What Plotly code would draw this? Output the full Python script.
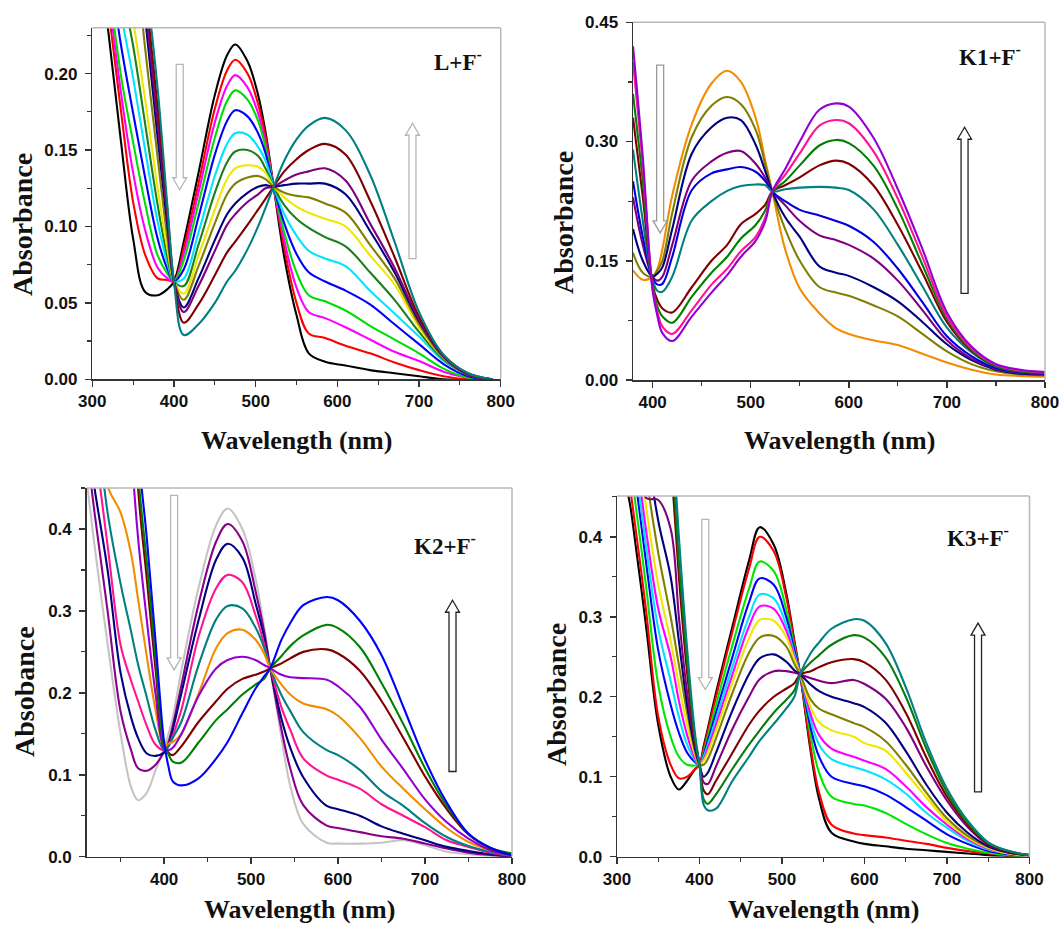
import plotly.graph_objects as go

FIG_W, FIG_H = 1061, 928

# ---------------- Panel 1 : L + F- ----------------
WL_L = [318, 335, 350, 365, 380, 392, 400, 412, 430, 450, 465, 475, 490, 503, 512,
        522, 535, 550, 565, 585, 610, 640, 670, 700, 730, 760, 790]
L_black = [0.235, 0.156, 0.092, 0.057, 0.055, 0.059, 0.064, 0.09, 0.135, 0.186, 0.212, 0.219, 0.208, 0.186, 0.162,
           0.126, 0.08, 0.042, 0.017, 0.0115, 0.009, 0.006, 0.004, 0.002, 0.0, 0.0, 0.0]
L_red = [0.25, 0.176, 0.116, 0.081, 0.066, 0.065, 0.064, 0.086, 0.128, 0.177, 0.202, 0.209, 0.2, 0.18, 0.159,
         0.126, 0.086, 0.05, 0.03, 0.027, 0.022, 0.017, 0.011, 0.006, 0.002, 0.0, 0.0]
L_magenta = [0.26, 0.188, 0.135, 0.097, 0.073, 0.066, 0.064, 0.082, 0.122, 0.168, 0.192, 0.199, 0.191, 0.174, 0.155,
             0.126, 0.091, 0.06, 0.044, 0.04, 0.034, 0.026, 0.018, 0.012, 0.005, 0.001, 0.0]
L_green = [0.27, 0.199, 0.155, 0.114, 0.081, 0.069, 0.064, 0.078, 0.115, 0.158, 0.182, 0.189, 0.183, 0.169, 0.152,
           0.126, 0.096, 0.07, 0.055, 0.051, 0.045, 0.035, 0.026, 0.017, 0.007, 0.001, 0.0]
L_blue = [0.28, 0.219, 0.174, 0.131, 0.092, 0.072, 0.064, 0.072, 0.106, 0.147, 0.169, 0.176, 0.172, 0.161, 0.148,
          0.126, 0.102, 0.082, 0.07, 0.064, 0.058, 0.049, 0.036, 0.023, 0.01, 0.002, 0.0]
L_cyan = [0.3, 0.24, 0.197, 0.149, 0.103, 0.076, 0.064, 0.066, 0.096, 0.133, 0.154, 0.161, 0.16, 0.152, 0.143,
          0.126, 0.108, 0.094, 0.084, 0.079, 0.074, 0.058, 0.043, 0.028, 0.012, 0.003, 0.0]
L_darkgreen = [0.32, 0.26, 0.218, 0.166, 0.114, 0.08, 0.064, 0.061, 0.088, 0.122, 0.142, 0.149, 0.15, 0.146, 0.138,
               0.126, 0.114, 0.105, 0.099, 0.093, 0.087, 0.07, 0.052, 0.031, 0.013, 0.003, 0.0]
L_yellow = [0.35, 0.29, 0.235, 0.182, 0.125, 0.085, 0.064, 0.056, 0.081, 0.111, 0.131, 0.138, 0.14, 0.139, 0.135,
            0.126, 0.119, 0.113, 0.109, 0.105, 0.1, 0.081, 0.062, 0.034, 0.014, 0.003, 0.0]
L_olive = [0.4, 0.34, 0.29, 0.215, 0.145, 0.092, 0.064, 0.052, 0.074, 0.102, 0.121, 0.128, 0.132, 0.133, 0.131,
           0.126, 0.122, 0.12, 0.119, 0.115, 0.109, 0.088, 0.066, 0.036, 0.014, 0.003, 0.0]
L_navy = [0.42, 0.36, 0.31, 0.235, 0.158, 0.1, 0.064, 0.047, 0.066, 0.091, 0.108, 0.115, 0.122, 0.126, 0.127,
          0.126, 0.127, 0.128, 0.128, 0.128, 0.121, 0.097, 0.07, 0.038, 0.015, 0.003, 0.0]
L_purple = [0.43, 0.37, 0.32, 0.245, 0.168, 0.105, 0.064, 0.044, 0.061, 0.084, 0.101, 0.108, 0.116, 0.121, 0.125,
            0.126, 0.13, 0.134, 0.136, 0.138, 0.13, 0.102, 0.073, 0.039, 0.015, 0.003, 0.0]
L_darkred = [0.44, 0.38, 0.33, 0.255, 0.178, 0.11, 0.064, 0.037, 0.049, 0.068, 0.083, 0.09, 0.101, 0.111, 0.118,
             0.126, 0.136, 0.144, 0.15, 0.154, 0.147, 0.117, 0.08, 0.041, 0.016, 0.004, 0.0]
L_teal = [0.45, 0.39, 0.34, 0.265, 0.19, 0.113, 0.064, 0.029, 0.036, 0.05, 0.064, 0.071, 0.085, 0.1, 0.112,
          0.126, 0.143, 0.157, 0.166, 0.171, 0.163, 0.134, 0.09, 0.044, 0.016, 0.004, 0.0]
L_COLORS = ['#000000', '#ff0000', '#ff00ff', '#00dd00', '#0000ff', '#00e5ff', '#1b7f1b',
            '#f2e600', '#808000', '#000080', '#800080', '#800000', '#008080']

# ---------------- Panel 2 : K1 + F- ----------------
WL_K1 = [380, 390, 400, 405, 410, 420, 440, 460, 476, 490, 505, 515, 522, 535, 550, 570,
         587, 600, 625, 650, 675, 700, 725, 750, 775, 800]
K1_orange = [0.138, 0.126, 0.13, 0.14, 0.165, 0.232, 0.322, 0.373, 0.389, 0.375, 0.33, 0.275, 0.237, 0.165, 0.115, 0.084,
             0.065, 0.058, 0.05, 0.044, 0.033, 0.022, 0.013, 0.007, 0.005, 0.004]
K1_olive = [0.16, 0.135, 0.13, 0.138, 0.15, 0.21, 0.306, 0.345, 0.356, 0.347, 0.315, 0.27, 0.237, 0.19, 0.15, 0.117,
            0.11, 0.106, 0.094, 0.08, 0.058, 0.036, 0.02, 0.011, 0.007, 0.006]
K1_navy = [0.19, 0.15, 0.13, 0.134, 0.142, 0.19, 0.285, 0.318, 0.33, 0.327, 0.296, 0.262, 0.237, 0.205, 0.18, 0.143,
           0.135, 0.131, 0.117, 0.099, 0.073, 0.045, 0.025, 0.013, 0.008, 0.007]
K1_purple = [0.23, 0.17, 0.13, 0.125, 0.13, 0.17, 0.251, 0.275, 0.286, 0.288, 0.272, 0.254, 0.237, 0.22, 0.2, 0.182,
             0.176, 0.17, 0.153, 0.125, 0.088, 0.05, 0.027, 0.014, 0.009, 0.008]
K1_blue = [0.25, 0.18, 0.128, 0.12, 0.121, 0.155, 0.239, 0.26, 0.265, 0.268, 0.262, 0.25, 0.237, 0.225, 0.214, 0.207,
           0.2, 0.194, 0.174, 0.14, 0.098, 0.055, 0.03, 0.015, 0.01, 0.008]
K1_teal = [0.29, 0.2, 0.125, 0.112, 0.111, 0.13, 0.201, 0.225, 0.238, 0.244, 0.246, 0.245, 0.237, 0.24, 0.242, 0.243,
           0.242, 0.239, 0.215, 0.17, 0.118, 0.066, 0.035, 0.017, 0.011, 0.009]
K1_darkred = [0.33, 0.23, 0.12, 0.1, 0.09, 0.085, 0.117, 0.15, 0.17, 0.196, 0.209, 0.221, 0.237, 0.245, 0.255, 0.27,
              0.276, 0.272, 0.245, 0.195, 0.135, 0.073, 0.037, 0.018, 0.011, 0.009]
K1_green = [0.36, 0.25, 0.118, 0.092, 0.08, 0.072, 0.105, 0.135, 0.155, 0.178, 0.195, 0.214, 0.237, 0.25, 0.27, 0.295,
            0.302, 0.298, 0.27, 0.215, 0.145, 0.077, 0.038, 0.018, 0.011, 0.009]
K1_pink = [0.4, 0.27, 0.115, 0.085, 0.067, 0.058, 0.088, 0.12, 0.14, 0.162, 0.18, 0.205, 0.237, 0.258, 0.285, 0.32,
           0.327, 0.323, 0.288, 0.228, 0.155, 0.08, 0.04, 0.019, 0.012, 0.01]
K1_violet = [0.42, 0.28, 0.112, 0.08, 0.059, 0.049, 0.08, 0.11, 0.132, 0.155, 0.175, 0.2, 0.237, 0.265, 0.3, 0.34,
             0.348, 0.344, 0.305, 0.24, 0.165, 0.085, 0.042, 0.02, 0.013, 0.01]
K1_COLORS = ['#f28c00', '#808000', '#000080', '#800080', '#0000dd', '#008080', '#800000',
             '#008000', '#ff1493', '#9400d3']

# ---------------- Panel 3 : K2 + F- ----------------
WL_K2 = [311, 320, 335, 350, 362, 370, 380, 390, 400, 405, 410, 420, 440, 460, 473, 490, 505, 515, 522,
         535, 545, 560, 587, 600, 625, 650, 675, 700, 725, 750, 775, 800]
K2_gray = [0.46, 0.38, 0.26, 0.15, 0.085, 0.069, 0.078, 0.105, 0.132, 0.15, 0.17, 0.228, 0.33, 0.405, 0.425, 0.4,
           0.34, 0.28, 0.23, 0.145, 0.087, 0.04, 0.017, 0.016, 0.016, 0.017, 0.02, 0.014, 0.006, 0.003, 0.001, 0.0]
K2_purple = [0.5, 0.42, 0.3, 0.177, 0.13, 0.108, 0.105, 0.112, 0.128, 0.14, 0.16, 0.21, 0.31, 0.385, 0.406, 0.385,
             0.325, 0.275, 0.23, 0.155, 0.108, 0.063, 0.038, 0.035, 0.03, 0.025, 0.022, 0.016, 0.01, 0.005, 0.002, 0.0]
K2_navy = [0.52, 0.45, 0.35, 0.224, 0.17, 0.145, 0.126, 0.123, 0.127, 0.135, 0.155, 0.2, 0.29, 0.363, 0.382, 0.365,
           0.31, 0.268, 0.23, 0.168, 0.133, 0.097, 0.062, 0.058, 0.05, 0.037, 0.028, 0.02, 0.012, 0.007, 0.003, 0.0]
K2_pink = [0.55, 0.5, 0.38, 0.258, 0.215, 0.19, 0.16, 0.137, 0.13, 0.135, 0.148, 0.18, 0.27, 0.328, 0.344, 0.335,
           0.295, 0.26, 0.23, 0.182, 0.155, 0.12, 0.099, 0.094, 0.083, 0.064, 0.05, 0.036, 0.02, 0.012, 0.005, 0.001]
K2_teal = [0.6, 0.55, 0.42, 0.333, 0.275, 0.235, 0.195, 0.155, 0.13, 0.135, 0.145, 0.165, 0.235, 0.29, 0.306, 0.303,
           0.28, 0.255, 0.23, 0.197, 0.178, 0.152, 0.13, 0.124, 0.106, 0.08, 0.062, 0.041, 0.024, 0.013, 0.006, 0.001]
K2_orange = [0.6, 0.55, 0.452, 0.42, 0.37, 0.315, 0.245, 0.18, 0.135, 0.138, 0.14, 0.15, 0.2, 0.255, 0.273, 0.277,
             0.265, 0.248, 0.23, 0.21, 0.198, 0.187, 0.18, 0.172, 0.145, 0.11, 0.083, 0.058, 0.035, 0.018, 0.008, 0.002]
K2_violet = [0.7, 0.7, 0.7, 0.7, 0.5, 0.39, 0.29, 0.2, 0.132, 0.13, 0.133, 0.15, 0.197, 0.23, 0.24, 0.244,
             0.24, 0.234, 0.23, 0.222, 0.219, 0.218, 0.216, 0.208, 0.183, 0.143, 0.107, 0.07, 0.042, 0.022, 0.008, 0.002]
K2_darkred = [0.7, 0.7, 0.7, 0.7, 0.62, 0.45, 0.34, 0.23, 0.135, 0.127, 0.124, 0.135, 0.165, 0.19, 0.205, 0.217,
              0.222, 0.226, 0.23, 0.236, 0.242, 0.25, 0.253, 0.248, 0.227, 0.19, 0.145, 0.098, 0.058, 0.027, 0.01, 0.002]
K2_green = [0.7, 0.7, 0.7, 0.7, 0.65, 0.47, 0.36, 0.245, 0.135, 0.125, 0.116, 0.115, 0.14, 0.167, 0.18, 0.198,
            0.21, 0.217, 0.23, 0.245, 0.257, 0.27, 0.283, 0.279, 0.256, 0.212, 0.162, 0.108, 0.062, 0.028, 0.011, 0.004]
K2_blue = [0.7, 0.7, 0.7, 0.7, 0.7, 0.5, 0.39, 0.265, 0.14, 0.11, 0.092, 0.087, 0.096, 0.12, 0.14, 0.175,
           0.205, 0.22, 0.23, 0.265, 0.285, 0.307, 0.317, 0.313, 0.288, 0.246, 0.183, 0.118, 0.066, 0.028, 0.011, 0.002]
K2_COLORS = ['#c4c4c4', '#8b008b', '#000080', '#ff1493', '#008080', '#f28c00', '#9400d3',
             '#800000', '#008000', '#0000ff']

# ---------------- Panel 4 : K3 + F- ----------------
WL_K3 = [300, 314, 320, 335, 350, 365, 375, 385, 395, 400, 405, 410, 420, 440, 460, 473, 490, 505, 515, 522,
         535, 545, 560, 587, 600, 625, 650, 675, 700, 725, 750, 775, 800]
K3_black = [0.5, 0.45, 0.41, 0.29, 0.165, 0.1, 0.084, 0.095, 0.11, 0.115, 0.138, 0.16, 0.205, 0.288, 0.37, 0.412,
            0.39, 0.33, 0.27, 0.228, 0.13, 0.072, 0.03, 0.019, 0.016, 0.013, 0.01, 0.008, 0.006, 0.004, 0.002, 0.001, 0.0]
K3_red = [0.52, 0.47, 0.43, 0.31, 0.175, 0.115, 0.098, 0.1, 0.11, 0.115, 0.135, 0.157, 0.2, 0.282, 0.36, 0.4,
          0.382, 0.325, 0.268, 0.228, 0.135, 0.08, 0.04, 0.029, 0.027, 0.024, 0.02, 0.016, 0.011, 0.007, 0.004, 0.002, 0.0]
K3_lime = [0.55, 0.5, 0.46, 0.34, 0.215, 0.15, 0.125, 0.115, 0.114, 0.115, 0.13, 0.15, 0.19, 0.265, 0.335, 0.369,
           0.357, 0.31, 0.262, 0.228, 0.15, 0.105, 0.075, 0.066, 0.064, 0.055, 0.041, 0.028, 0.017, 0.01, 0.005, 0.002, 0.0]
K3_blue = [0.58, 0.53, 0.49, 0.37, 0.258, 0.19, 0.155, 0.13, 0.118, 0.115, 0.127, 0.145, 0.18, 0.25, 0.318, 0.348,
           0.34, 0.3, 0.258, 0.228, 0.16, 0.125, 0.1, 0.091, 0.088, 0.078, 0.062, 0.045, 0.028, 0.016, 0.007, 0.003, 0.001]
K3_cyan = [0.6, 0.55, 0.51, 0.39, 0.285, 0.22, 0.175, 0.14, 0.12, 0.115, 0.125, 0.14, 0.172, 0.238, 0.3, 0.328,
           0.323, 0.29, 0.253, 0.228, 0.17, 0.14, 0.122, 0.112, 0.108, 0.097, 0.079, 0.055, 0.036, 0.02, 0.009, 0.004, 0.001]
K3_magenta = [0.62, 0.57, 0.53, 0.41, 0.31, 0.25, 0.195, 0.152, 0.122, 0.115, 0.122, 0.135, 0.165, 0.228, 0.288, 0.313,
              0.31, 0.283, 0.25, 0.228, 0.177, 0.152, 0.135, 0.125, 0.12, 0.11, 0.088, 0.062, 0.04, 0.022, 0.01, 0.004, 0.001]
K3_yellow = [0.65, 0.6, 0.56, 0.44, 0.34, 0.27, 0.215, 0.165, 0.126, 0.115, 0.12, 0.13, 0.158, 0.218, 0.273, 0.296,
             0.295, 0.275, 0.247, 0.228, 0.186, 0.168, 0.158, 0.15, 0.142, 0.133, 0.105, 0.074, 0.044, 0.024, 0.011, 0.004, 0.001]
K3_olive = [0.7, 0.65, 0.6, 0.48, 0.38, 0.3, 0.24, 0.18, 0.13, 0.115, 0.115, 0.122, 0.148, 0.205, 0.255, 0.274,
            0.276, 0.263, 0.241, 0.228, 0.196, 0.185, 0.178, 0.167, 0.162, 0.145, 0.115, 0.08, 0.048, 0.026, 0.012, 0.005, 0.002]
K3_navy = [0.7, 0.68, 0.65, 0.52, 0.42, 0.35, 0.27, 0.19, 0.133, 0.115, 0.1, 0.105, 0.13, 0.183, 0.228, 0.248,
           0.253, 0.244, 0.233, 0.228, 0.215, 0.207, 0.2, 0.192, 0.187, 0.168, 0.132, 0.09, 0.055, 0.03, 0.013, 0.005, 0.002]
K3_purple = [0.7, 0.7, 0.65, 0.449, 0.446, 0.41, 0.3, 0.205, 0.138, 0.115, 0.093, 0.091, 0.113, 0.16, 0.2, 0.222,
             0.232, 0.232, 0.23, 0.228, 0.223, 0.22, 0.217, 0.221, 0.216, 0.198, 0.162, 0.113, 0.07, 0.037, 0.015, 0.006, 0.002]
K3_darkred = [0.7, 0.7, 0.7, 0.7, 0.7, 0.5, 0.35, 0.23, 0.14, 0.115, 0.083, 0.078, 0.095, 0.13, 0.165, 0.183,
              0.2, 0.21, 0.217, 0.228, 0.232, 0.237, 0.243, 0.247, 0.243, 0.222, 0.18, 0.124, 0.075, 0.04, 0.016, 0.006, 0.002]
K3_darkgreen = [0.7, 0.7, 0.7, 0.7, 0.7, 0.53, 0.37, 0.245, 0.145, 0.115, 0.072, 0.066, 0.078, 0.11, 0.14, 0.158,
                0.18, 0.196, 0.208, 0.228, 0.243, 0.252, 0.265, 0.277, 0.274, 0.25, 0.2, 0.135, 0.08, 0.042, 0.017, 0.007, 0.002]
K3_teal = [0.7, 0.7, 0.7, 0.7, 0.7, 0.56, 0.4, 0.26, 0.15, 0.115, 0.065, 0.058, 0.06, 0.095, 0.125, 0.145,
           0.166, 0.185, 0.2, 0.228, 0.255, 0.268, 0.285, 0.297, 0.295, 0.268, 0.212, 0.142, 0.085, 0.045, 0.018, 0.007, 0.002]
K3_COLORS = ['#000000', '#ff0000', '#00e600', '#0000ff', '#00e5ff', '#ff00ff', '#f2e600',
             '#808000', '#000080', '#800080', '#800000', '#0b7a0b', '#008080']

# ---------------- texts ----------------
PANEL_LABELS = ['L+F<sup>-</sup>', 'K1+F<sup>-</sup>', 'K2+F<sup>-</sup>', 'K3+F<sup>-</sup>']
Y_TITLES = ['Absorbance', 'Absorbance', 'Absobance', 'Absorbance']
X_TITLE = 'Wavelength (nm)'

panels = [
    dict(wl=WL_L, curves=[L_black, L_red, L_magenta, L_green, L_blue, L_cyan, L_darkgreen, L_yellow,
                          L_olive, L_navy, L_purple, L_darkred, L_teal], colors=L_COLORS,
         xr=[300, 800], yr=[0, 0.23], ydt=0.05, yminor=0.025, yfmt='.2f',
         box=(92.3, 27.7, 500.7, 379.3),
         ytitle=(22, 225), xtitle_y=440, label=(458, 61),
         arrows=[(407, 0.206, 0.124, '#b5b5b5'), (692, 0.079, 0.1675, '#b5b5b5')]),
    dict(wl=WL_K1, curves=[K1_orange, K1_olive, K1_navy, K1_purple, K1_blue, K1_teal, K1_darkred,
                           K1_green, K1_pink, K1_violet], colors=K1_COLORS,
         xr=[380, 800], yr=[0, 0.45], ydt=0.15, yminor=0.075, yfmt='.2f',
         box=(633, 22.3, 1045, 380),
         ytitle=(563, 223), xtitle_y=440, label=(990, 56),
         arrows=[(407.7, 0.396, 0.185, '#9a9a9a'), (718, 0.109, 0.318, '#222222')]),
    dict(wl=WL_K2, curves=[K2_gray, K2_purple, K2_navy, K2_pink, K2_teal, K2_orange, K2_violet,
                           K2_darkred, K2_green, K2_blue], colors=K2_COLORS,
         xr=[311, 800], yr=[0, 0.45], ydt=0.1, yminor=0.05, yfmt='.1f',
         box=(86.7, 488, 512, 856.7),
         ytitle=(24, 692), xtitle_y=909, label=(445, 544),
         arrows=[(411.5, 0.441, 0.228, '#b5b5b5'), (731.6, 0.104, 0.313, '#222222')]),
    dict(wl=WL_K3, curves=[K3_black, K3_red, K3_lime, K3_blue, K3_cyan, K3_magenta, K3_yellow, K3_olive,
                           K3_navy, K3_purple, K3_darkred, K3_darkgreen, K3_teal], colors=K3_COLORS,
         xr=[300, 800], yr=[0, 0.451], ydt=0.1, yminor=0.05, yfmt='.1f',
         box=(617, 496, 1029.5, 856.7),
         ytitle=(556, 695), xtitle_y=909, label=(978, 536),
         arrows=[(407, 0.4217, 0.209, '#b5b5b5'), (737.6, 0.081, 0.292, '#222222')]),
]


def arrow_path(p, xc, y_tail, y_tip, shaft=7.0, head_w=14.0, head_h=12.0):
    x0, x1 = p['xr']
    y0, y1 = p['yr']
    L, T, R, B = p['box']
    kx = (x1 - x0) / (R - L)
    ky = (y1 - y0) / (B - T)
    s = shaft / 2 * kx
    h = head_w / 2 * kx
    hh = head_h * ky
    sign = 1 if y_tip > y_tail else -1
    yn = y_tip - sign * hh
    pts = [(xc - s, y_tail), (xc - s, yn), (xc - h, yn), (xc, y_tip), (xc + h, yn), (xc + s, yn), (xc + s, y_tail)]
    return 'M ' + ' L '.join(f'{x:.4f},{y:.5f}' for x, y in pts) + ' Z'


fig = go.Figure()
layout = dict(width=FIG_W, height=FIG_H, margin=dict(l=0, r=0, t=0, b=0),
              paper_bgcolor='white', plot_bgcolor='white', showlegend=False)
shapes, annotations = [], []
tickfont = dict(family='Liberation Sans', size=17, color='#111111', weight='bold')
serif = 'Liberation Serif'

for i, p in enumerate(panels, start=1):
    xa = 'x' if i == 1 else f'x{i}'
    ya = 'y' if i == 1 else f'y{i}'
    for ys, c in zip(p['curves'], p['colors']):
        fig.add_trace(go.Scatter(x=p['wl'], y=ys, mode='lines', xaxis=xa, yaxis=ya,
                                 line=dict(color=c, width=2.1, shape='spline', smoothing=1.0),
                                 hoverinfo='skip', showlegend=False))
    L, T, R, B = p['box']
    common = dict(showgrid=False, zeroline=False, showline=True, linecolor='#333333', linewidth=1.5,
                  ticks='outside', ticklen=6, tickwidth=1.5, tickcolor='#333333', tickfont=tickfont,
                  automargin=False, fixedrange=True)
    layout['xaxis' if i == 1 else f'xaxis{i}'] = dict(
        common, domain=[L / FIG_W, R / FIG_W], range=p['xr'], tick0=0, dtick=100, anchor=ya,
        minor=dict(dtick=50, tick0=0, ticks='outside', ticklen=4, tickwidth=1.2, tickcolor='#333333'))
    layout['yaxis' if i == 1 else f'yaxis{i}'] = dict(
        common, domain=[1 - B / FIG_H, 1 - T / FIG_H], range=p['yr'], tick0=0, dtick=p['ydt'],
        tickformat=p['yfmt'], anchor=xa, ticklabelstandoff=4,
        minor=dict(dtick=p['yminor'], tick0=0, ticks='outside', ticklen=4, tickwidth=1.2, tickcolor='#333333'))
    # light top/right frame
    shapes.append(dict(type='line', xref=f'{xa} domain', yref=f'{ya} domain', x0=0, x1=1, y0=1, y1=1,
                       line=dict(color='#b8b8b8', width=1.5)))
    shapes.append(dict(type='line', xref=f'{xa} domain', yref=f'{ya} domain', x0=1, x1=1, y0=0, y1=1,
                       line=dict(color='#b8b8b8', width=1.5)))
    for (xc, yt, yp, col) in p['arrows']:
        shapes.append(dict(type='path', xref=xa, yref=ya, path=arrow_path(p, xc, yt, yp),
                           line=dict(color=col, width=1.3), fillcolor='rgba(255,255,255,0)'))
    # titles
    annotations.append(dict(text=Y_TITLES[i - 1], xref='paper', yref='paper',
                            x=p['ytitle'][0] / FIG_W, y=1 - p['ytitle'][1] / FIG_H, textangle=-90,
                            showarrow=False, xanchor='center', yanchor='middle',
                            font=dict(family=serif, size=28, color='#111111', weight='bold')))
    annotations.append(dict(text=X_TITLE, xref='paper', yref='paper',
                            x=(L + R) / 2 / FIG_W, y=1 - p['xtitle_y'] / FIG_H,
                            showarrow=False, xanchor='center', yanchor='middle',
                            font=dict(family=serif, size=26, color='#111111', weight='bold')))
    annotations.append(dict(text=PANEL_LABELS[i - 1], xref='paper', yref='paper',
                            x=p['label'][0] / FIG_W, y=1 - p['label'][1] / FIG_H,
                            showarrow=False, xanchor='center', yanchor='middle',
                            font=dict(family=serif, size=23, color='#111111', weight='bold')))

layout['shapes'] = shapes
layout['annotations'] = annotations
fig.update_layout(**layout)
fig.write_html('out.html', config={'displayModeBar': False, 'staticPlot': True},
               post_script="document.body.style.margin='0px';document.body.style.overflow='hidden';")
